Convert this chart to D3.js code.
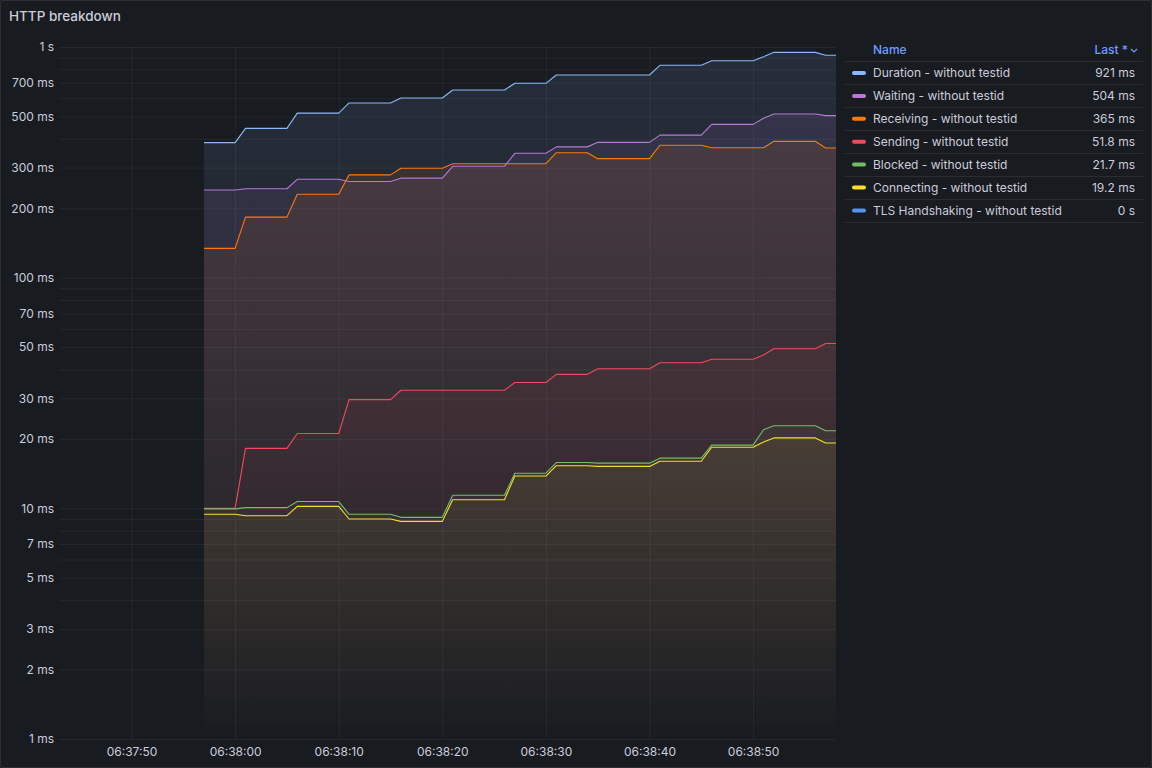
<!DOCTYPE html>
<html><head><meta charset="utf-8">
<script src="https://cdn.jsdelivr.net/npm/d3@7"></script>
<style>
body{margin:0;background:#181b1f;}
svg{display:block;font-family:Inter,"Noto Sans",sans-serif;}
</style>
</head><body>
<svg id="chart" width="1152" height="768"></svg>
<script>
// ---------- data ----------
const panelTitle = "HTTP breakdown";
// seconds relative to 06:38:00
const timeOffsets = [-3, 0, 1, 5, 6, 10, 11, 15, 16, 20, 21, 26, 27, 30, 31, 34, 35, 40, 41, 45, 46, 50, 51, 52, 56, 57, 58];
const durationMs   = [385, 385, 444, 444, 517, 517, 572, 572, 601, 601, 651, 651, 696, 696, 756, 756, 756, 756, 833, 833, 872, 872, 907, 948, 948, 921, 921];
const waitingMs    = [240, 240, 243, 243, 267, 267, 261, 261, 270, 270, 304, 304, 346, 346, 369, 369, 386, 386, 415, 415, 462, 462, 491, 512, 512, 504, 504];
const receivingMs  = [134, 134, 183, 183, 230, 230, 279, 279, 298, 298, 312, 312, 312, 312, 348, 348, 328, 328, 375, 375, 366, 366, 366, 390, 390, 365, 365];
const sendingMs    = [10, 10, 18.2, 18.2, 21.1, 21.1, 29.6, 29.6, 32.5, 32.5, 32.5, 32.5, 35.1, 35.1, 38.1, 38.1, 40.3, 40.3, 42.8, 42.8, 44.3, 44.3, 46.2, 49.2, 49.2, 51.8, 51.8];
const blockedMs    = [9.95, 9.95, 10.07, 10.07, 10.7, 10.7, 9.42, 9.42, 9.14, 9.14, 11.4, 11.4, 14.2, 14.2, 15.8, 15.8, 15.7, 15.7, 16.5, 16.5, 18.8, 18.8, 21.9, 22.8, 22.8, 21.7, 21.7];
const connectingMs = [9.42, 9.42, 9.29, 9.29, 10.2, 10.2, 8.99, 8.99, 8.78, 8.78, 10.9, 10.9, 13.8, 13.8, 15.3, 15.3, 15.2, 15.2, 16.0, 16.0, 18.4, 18.4, 19.4, 20.2, 20.2, 19.2, 19.2];
const tlsMs        = [0, 0, 0, 0, 0, 0, 0, 0, 0, 0, 0, 0, 0, 0, 0, 0, 0, 0, 0, 0, 0, 0, 0, 0, 0, 0, 0];

const seriesNames  = ["Duration - without testid", "Waiting - without testid", "Receiving - without testid",
                      "Sending - without testid", "Blocked - without testid", "Connecting - without testid",
                      "TLS Handshaking - without testid"];
const seriesColors = ["#8AB8FF", "#B877D9", "#FF780A", "#F2495C", "#73BF69", "#FADE2A", "#5794F2"];
const seriesValues = [durationMs, waitingMs, receivingMs, sendingMs, blockedMs, connectingMs, tlsMs];

const yTickValues = [1, 2, 3, 5, 7, 10, 20, 30, 50, 70, 100, 200, 300, 500, 700, 1000];
const yGridValues = [1,2,3,4,5,6,7,8,9,10,20,30,40,50,60,70,80,90,100,200,300,400,500,600,700,800,900,1000];
const xTickOffsets = [-10, 0, 10, 20, 30, 40, 50];
const xDomainOffsets = [-17, 58];

// ---------- layout ----------
const W = 1152, H = 768;
const plot = {left: 59, right: 836, top: 47, bottom: 739};
const base = Date.UTC(2024, 0, 1, 6, 38, 0);
const toDate = s => new Date(base + s * 1000);

const svg = d3.select("#chart");
svg.append("rect").attr("x", 0.5).attr("y", 0.5).attr("width", W - 1).attr("height", H - 1)
  .attr("rx", 2).attr("fill", "#181b1f").attr("stroke", "rgba(204,204,220,0.12)");

svg.append("text").attr("x", 9).attr("y", 21).attr("fill", "#ccccdc")
  .attr("font-size", 13.5).attr("font-weight", 500).text(panelTitle);

const x = d3.scaleUtc().domain(xDomainOffsets.map(toDate)).range([plot.left, plot.right]);
const y = d3.scaleLog().domain([1, 1000]).range([plot.bottom, plot.top]);

const gridColor = "rgba(204,204,220,0.07)";
svg.append("g").attr("transform", `translate(${plot.left},0)`)
  .call(d3.axisLeft(y).tickValues(yGridValues).tickSize(-(plot.right - plot.left)).tickFormat(""))
  .call(g => g.select(".domain").remove())
  .call(g => g.selectAll("line").attr("stroke", gridColor));
svg.append("g").attr("transform", `translate(0,${plot.bottom})`)
  .call(d3.axisBottom(x).tickValues(xTickOffsets.map(toDate)).tickSize(-(plot.bottom - plot.top)).tickFormat(""))
  .call(g => g.select(".domain").remove())
  .call(g => g.selectAll("line").attr("stroke", gridColor));

const fmtY = v => v >= 1000 ? (v / 1000) + " s" : v + " ms";
svg.append("g").attr("transform", `translate(${plot.left},0)`)
  .call(d3.axisLeft(y).tickValues(yTickValues).tickFormat(fmtY).tickSize(0).tickPadding(5))
  .call(g => g.select(".domain").remove())
  .call(g => g.selectAll("text").attr("fill", "#ccccdc").attr("font-size", 12).attr("font-family", "Inter,'Noto Sans',sans-serif"));
svg.append("g").attr("transform", `translate(0,${plot.bottom})`)
  .call(d3.axisBottom(x).tickValues(xTickOffsets.map(toDate)).tickFormat(d3.utcFormat("%H:%M:%S")).tickSize(0).tickPadding(8))
  .call(g => g.select(".domain").remove())
  .call(g => g.selectAll("text").attr("fill", "#ccccdc").attr("font-size", 12).attr("font-family", "Inter,'Noto Sans',sans-serif"));

const defs = svg.append("defs");
const fillOpacity = 0.12;
seriesColors.forEach((c, i) => {
  const g = defs.append("linearGradient").attr("id", "grad" + i).attr("gradientUnits", "userSpaceOnUse")
    .attr("x1", 0).attr("x2", 0).attr("y1", plot.top).attr("y2", plot.bottom);
  g.append("stop").attr("offset", 0).attr("stop-color", c).attr("stop-opacity", fillOpacity);
  g.append("stop").attr("offset", 1).attr("stop-color", c).attr("stop-opacity", 0);
});
defs.append("clipPath").attr("id", "clip").append("rect")
  .attr("x", plot.left).attr("y", plot.top).attr("width", plot.right - plot.left).attr("height", plot.bottom - plot.top);

const layer = svg.append("g").attr("clip-path", "url(#clip)");
const area = d3.area().x(d => x(toDate(d.t))).y0(plot.bottom).y1(d => y(d.v)).defined(d => d.v > 0);
const line = d3.line().x(d => x(toDate(d.t))).y(d => y(d.v)).defined(d => d.v > 0);

const seriesData = seriesValues.map(vals => vals.map((v, i) => ({t: timeOffsets[i], v})));
seriesData.forEach((d, i) => {
  if (!d.some(p => p.v > 0)) return;
  layer.append("path").datum(d).attr("d", area).attr("fill", `url(#grad${i})`);
});
seriesData.forEach((d, i) => {
  if (!d.some(p => p.v > 0)) return;
  layer.append("path").datum(d).attr("d", line).attr("fill", "none")
    .attr("stroke", seriesColors[i]).attr("stroke-width", 1.1).attr("stroke-linejoin", "round");
});

// ---------- legend ----------
const lg = {left: 845, right: 1143, nameX: 873, valueX: 1135, headerY: 50, rowY0: 73, rowH: 22.9};
const sepColor = "rgba(204,204,220,0.1)";
const legend = svg.append("g").attr("font-size", 12);
legend.append("text").attr("x", lg.nameX).attr("y", lg.headerY).attr("dy", "0.35em")
  .attr("fill", "#6E9FFF").attr("font-weight", 500).text("Name");
legend.append("text").attr("x", 1128).attr("y", lg.headerY).attr("dy", "0.35em").attr("text-anchor", "end")
  .attr("fill", "#6E9FFF").attr("font-weight", 500).text("Last *");
legend.append("path").attr("d", `M1131,49 L1134,52 L1137,49`).attr("fill", "none")
  .attr("stroke", "#6E9FFF").attr("stroke-width", 1.1);
legend.append("line").attr("x1", lg.left).attr("x2", lg.right).attr("y1", 61.5).attr("y2", 61.5).attr("stroke", sepColor);

const fmtV = v => v === 0 ? "0 s" : (v >= 1000 ? d3.format(".3~r")(v / 1000) + " s" : d3.format(".3~r")(v) + " ms");
seriesNames.forEach((name, i) => {
  const cy = lg.rowY0 + i * lg.rowH;
  legend.append("rect").attr("x", 852).attr("y", cy - 2).attr("width", 14).attr("height", 4).attr("rx", 2)
    .attr("fill", seriesColors[i]);
  legend.append("text").attr("x", lg.nameX).attr("y", cy).attr("dy", "0.35em").attr("fill", "#ccccdc").text(name);
  const vals = seriesValues[i];
  legend.append("text").attr("x", lg.valueX).attr("y", cy).attr("dy", "0.35em").attr("text-anchor", "end")
    .attr("fill", "#ccccdc").text(fmtV(vals[vals.length - 1]));
  const sy = Math.round(cy + lg.rowH / 2) + 0.5;
  legend.append("line").attr("x1", lg.left).attr("x2", lg.right).attr("y1", sy).attr("y2", sy).attr("stroke", sepColor);
});
</script>
</body></html>
